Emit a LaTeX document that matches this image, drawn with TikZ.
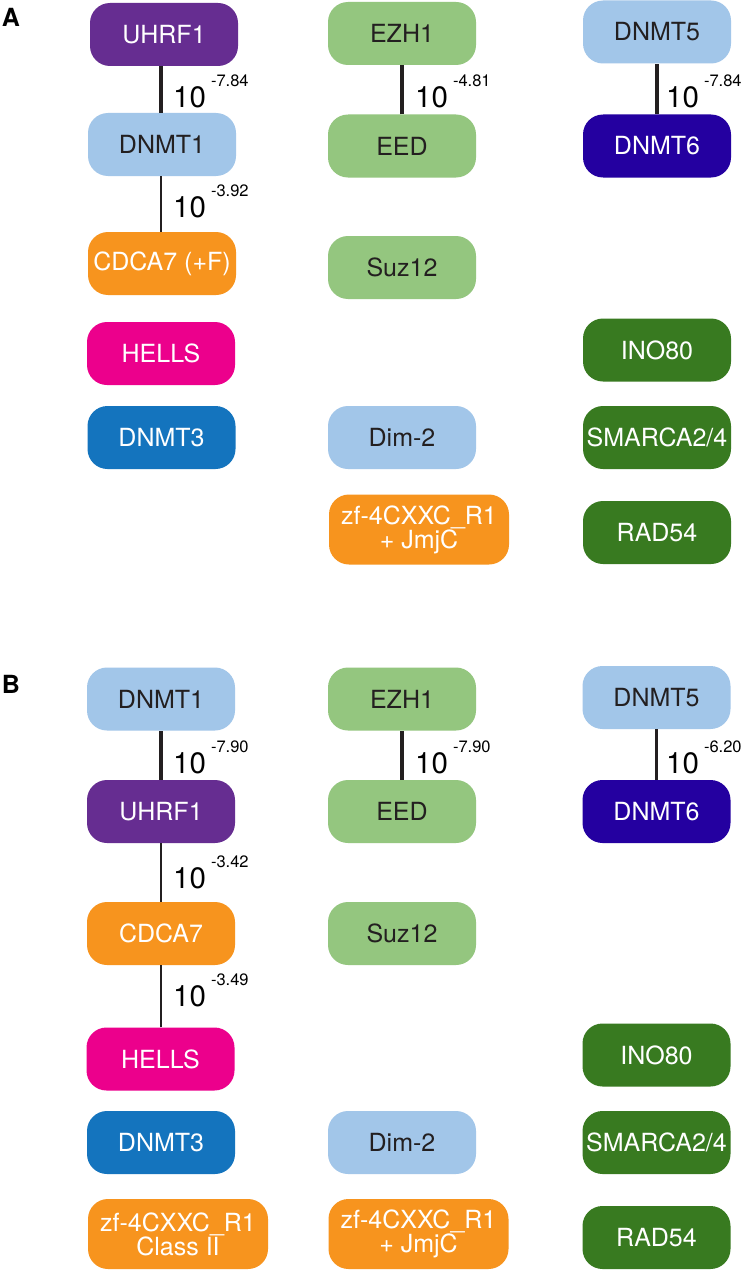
\documentclass[tikz,border=0pt]{standalone}
\usepackage{fontspec}
\setmainfont{TeX Gyre Heros}
\definecolor{cpurple}{HTML}{662D91}
\definecolor{clblue}{HTML}{A2C6E9}
\definecolor{corange}{HTML}{F7941E}
\definecolor{cmagenta}{HTML}{EC008C}
\definecolor{cblue}{HTML}{1474BE}
\definecolor{clgreen}{HTML}{94C67F}
\definecolor{cindigo}{HTML}{2400A0}
\definecolor{cdgreen}{HTML}{387A20}
\definecolor{cdark}{HTML}{231F20}
\tikzset{
  box/.style={rounded corners=20pt, minimum width=148pt, minimum height=63pt, inner sep=0pt, align=center,
    font=\fontsize{25}{24}\selectfont},
  widebox/.style={box, minimum width=180pt, minimum height=70pt},
  dk/.style={fill=#1, text=white},
  lt/.style={fill=#1, text=cdark},
  thick link/.style={draw=cdark, line width=3.6pt},
  thin link/.style={draw=cdark, line width=1.8pt},
  pval/.style={anchor=base west, inner sep=0pt, text=black, font=\fontsize{29.5}{30}\selectfont},
  panel/.style={inner sep=0pt, font=\fontsize{25}{26}\selectfont\bfseries}
}
\newcommand{\pv}[1]{10\hspace{5pt}\raisebox{21pt}{\fontsize{16.5}{17}\selectfont #1}}
\begin{document}
\begin{tikzpicture}[x=1pt,y=-1pt]
\useasboundingbox (0,0) rectangle (743,1271);
\fill[white] (0,0) rectangle (743,1271);
% Panel A
\node[panel] (lA) at (11,17) {A};
\node[box,dk=cpurple] (aUHRF) at (164,34.5) {UHRF1};
\node[box,lt=clblue] (aDNMT1) at (162,144.5) {DNMT1};
\node[box,dk=corange] (aCDCA) at (162,263.5) {CDCA7 (+F)};
\node[box,dk=cmagenta] (aHELLS) at (161,353.5) {HELLS};
\node[box,dk=cblue] (aDNMT3) at (161.5,437.5) {DNMT3};
\node[box,lt=clgreen] (aEZH) at (402,33.5) {EZH1};
\node[box,lt=clgreen] (aEED) at (402,146) {EED};
\node[box,lt=clgreen] (aSuz) at (402,267.5) {Suz12};
\node[box,lt=clblue] (aDim) at (402,437.5) {Dim-2};
\node[widebox,dk=corange] (aZF) at (419,529.5) {zf-4CXXC\_R1\\+ JmjC};
\node[box,lt=clblue] (aDNMT5) at (657,32) {DNMT5};
\node[box,dk=cindigo] (aDNMT6) at (657,146) {DNMT6};
\node[box,dk=cdgreen] (aINO) at (657,350) {INO80};
\node[box,dk=cdgreen] (aSMA) at (657,437.5) {SMARCA2/4};
\node[box,dk=cdgreen] (aRAD) at (657,532.5) {RAD54};
\draw[thick link] (aDNMT1.north -| 161,0) -- (aUHRF.south -| 161,0);
\draw[thin link] (aCDCA.north -| 161,0) -- (aDNMT1.south -| 161,0);
\draw[thick link] (aEED.north) -- (aEZH.south);
\draw[thick link] (aDNMT6.north) -- (aDNMT5.south);
\node[pval] (pa1) at (173,108) {\pv{-7.84}};
\node[pval] (pa2) at (173,217) {\pv{-3.92}};
\node[pval] (pa3) at (415,108) {\pv{-4.81}};
\node[pval] (pa4) at (666,108) {\pv{-7.84}};
% Panel B
\node[panel] (lB) at (11,684) {B};
\node[box,lt=clblue] (bDNMT1) at (161,699) {DNMT1};
\node[box,dk=cpurple] (bUHRF) at (161,811.5) {UHRF1};
\node[box,dk=corange] (bCDCA) at (161,933.5) {CDCA7};
\node[box,dk=cmagenta] (bHELLS) at (160.5,1059) {HELLS};
\node[box,dk=cblue] (bDNMT3) at (161,1142.5) {DNMT3};
\node[widebox,dk=corange] (bZF1) at (178,1234) {zf-4CXXC\_R1\\Class II};
\node[box,lt=clgreen] (bEZH) at (402,699) {EZH1};
\node[box,lt=clgreen] (bEED) at (402,811.5) {EED};
\node[box,lt=clgreen] (bSuz) at (402,933.5) {Suz12};
\node[box,lt=clblue] (bDim) at (402,1142.5) {Dim-2};
\node[widebox,dk=corange] (bZF2) at (418.5,1234) {zf-4CXXC\_R1\\+ JmjC};
\node[box,lt=clblue] (bDNMT5) at (656.5,697.5) {DNMT5};
\node[box,dk=cindigo] (bDNMT6) at (656.5,811.5) {DNMT6};
\node[box,dk=cdgreen] (bINO) at (656.5,1055) {INO80};
\node[box,dk=cdgreen] (bSMA) at (656.5,1142.5) {SMARCA2/4};
\node[box,dk=cdgreen] (bRAD) at (656.5,1237.5) {RAD54};
\draw[thick link] (bUHRF.north) -- (bDNMT1.south);
\draw[thin link] (bCDCA.north) -- (bUHRF.south);
\draw[thin link] (bHELLS.north -| bCDCA.south) -- (bCDCA.south);
\draw[thick link] (bEED.north) -- (bEZH.south);
\draw[thick link] (bDNMT6.north) -- (bDNMT5.south);
\node[pval] (pb1) at (173,773) {\pv{-7.90}};
\node[pval] (pb2) at (173,888) {\pv{-3.42}};
\node[pval] (pb3) at (173,1006) {\pv{-3.49}};
\node[pval] (pb4) at (415,773) {\pv{-7.90}};
\node[pval] (pb5) at (666,773) {\pv{-6.20}};
\end{tikzpicture}
\end{document}
